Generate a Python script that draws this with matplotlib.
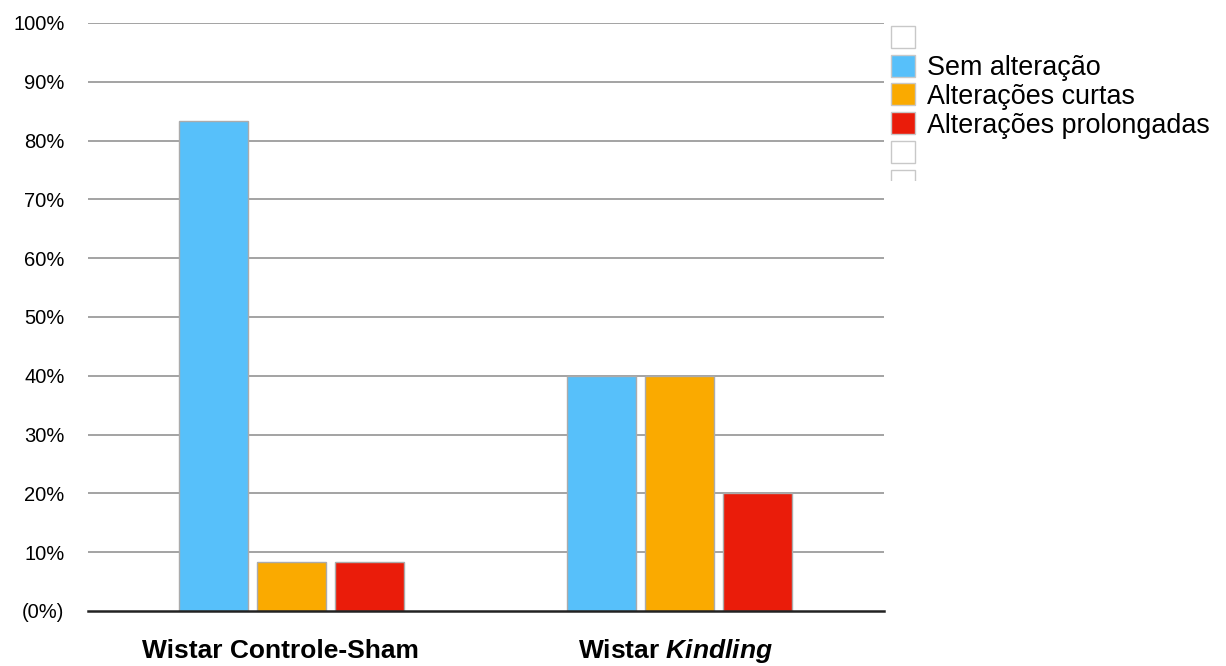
import matplotlib
matplotlib.use("Agg")
import matplotlib.pyplot as plt
from matplotlib.patches import Patch
from matplotlib.transforms import Bbox, ScaledTranslation
import numpy as np

plt.rcParams['font.family'] = ['Liberation Sans', 'DejaVu Sans']
plt.rcParams['mathtext.fontset'] = 'custom'
plt.rcParams['mathtext.rm'] = 'Liberation Sans:bold'
plt.rcParams['mathtext.bfit'] = 'Liberation Sans:bold:italic'
plt.rcParams['mathtext.it'] = 'Liberation Sans:bold:italic'

groups = ["Wistar Controle-Sham", r"Wistar $\mathbfit{Kindling}$"]
series = ["Sem alteração", "Alterações curtas", "Alterações prolongadas"]
values = {
    "Sem alteração": [83.3, 40.0],
    "Alterações curtas": [8.3, 40.0],
    "Alterações prolongadas": [8.3, 20.0],
}
colors = ["#57C0FA", "#FAAA00", "#EA1C0A"]
yticks = [0, 10, 20, 30, 40, 50, 60, 70, 80, 90, 100]
ytick_labels = ["(0%)", "10%", "20%", "30%", "40%", "50%", "60%", "70%", "80%", "90%", "100%"]

fig = plt.figure(figsize=(12.26, 6.66), dpi=100)
ax = fig.add_axes([88 / 1226, 1 - 611 / 666, (884 - 88) / 1226, (611 - 23) / 666])

x = np.arange(len(groups))
width = 0.18
step = 0.201
for i, (name, col) in enumerate(zip(series, colors)):
    ax.bar(x + (i - 1) * step, values[name], width=width, color=col,
           edgecolor="#ababab", linewidth=1.0, zorder=3, label=name)

ax.set_xlim(-0.5245, 1.527)
ax.set_ylim(0, 100)
ax.set_yticks(yticks)
ax.set_yticklabels(ytick_labels)
ax.set_xticks(x)
ax.set_xticklabels(groups, fontweight="bold", fontsize=19)
ax.tick_params(axis="y", length=0, pad=17, labelsize=14.5)
ax.tick_params(axis="x", length=0, pad=20)

# nudge the group labels slightly to the left
label_shift = [-11, -4]
label_lift = [0, 2]
for lbl, dx, dy in zip(ax.get_xticklabels(), label_shift, label_lift):
    lbl.set_transform(lbl.get_transform() + ScaledTranslation(dx / 100, dy / 100, fig.dpi_scale_trans))

for y in yticks[1:]:
    ax.axhline(y, color="#a3a3a3", linewidth=1.4, zorder=1)

for side in ["top", "right", "left"]:
    ax.spines[side].set_visible(False)
ax.spines["bottom"].set_color("#222222")
ax.spines["bottom"].set_linewidth(1.8)
ax.spines["bottom"].set_zorder(4)

blank = dict(facecolor="white", edgecolor="#c8c8c8", linewidth=1.0)
handles = [Patch(**blank)]
labels = [""]
for name, col in zip(series, colors):
    handles.append(Patch(facecolor=col, edgecolor="#c8c8c8", linewidth=1.0))
    labels.append(name)
handles += [Patch(**blank), Patch(**blank)]
labels += ["", ""]

leg = fig.legend(handles, labels, loc="upper left",
                 bbox_to_anchor=(891 / 1226, 1 - 26 / 666),
                 frameon=False, fontsize=19.4, handlelength=0.88,
                 handleheight=0.88, handletextpad=0.45, labelspacing=0.09,
                 borderpad=0, borderaxespad=0)
fig.canvas.draw()
clip = Bbox([[0, 666 - 181], [1226, 666]])
for h in leg.legend_handles:
    h.set_clip_box(clip)
    h.set_clip_on(True)

fig.savefig("out.png", dpi=100)
